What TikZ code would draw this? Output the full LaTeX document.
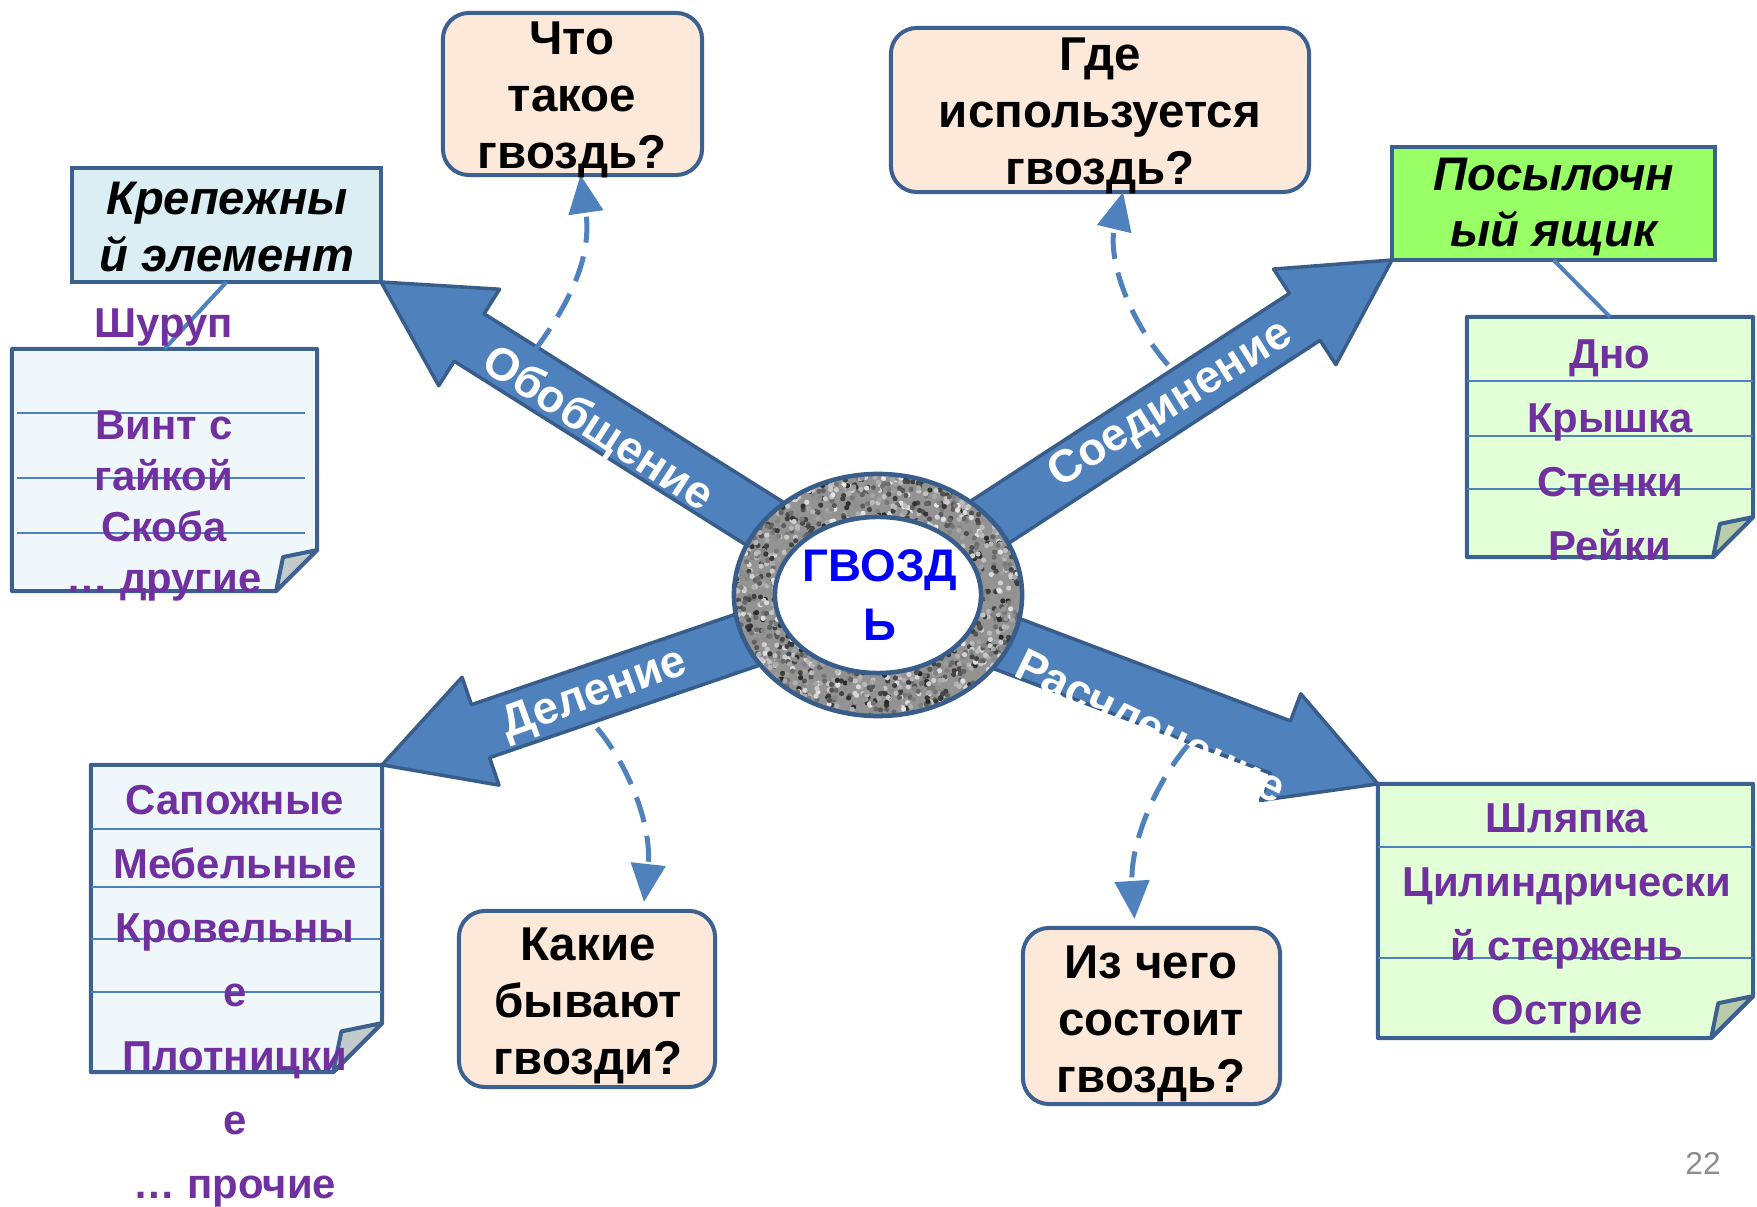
\documentclass[tikz,border=0pt]{standalone}
\usepackage{fontspec}
\setmainfont{Liberation Sans}
\usetikzlibrary{arrows.meta,calc,shapes}

\definecolor{arrowfill}{HTML}{4F81BD}
\definecolor{arrowline}{HTML}{385D8A}
\definecolor{boxline}{HTML}{3C6190}
\definecolor{peach}{HTML}{FDE9D9}
\definecolor{iceblue}{HTML}{DAEEF3}
\definecolor{paleblue}{HTML}{EFF7FA}
\definecolor{lime}{HTML}{99FF66}
\definecolor{palegreen}{HTML}{E3FFD7}
\definecolor{foldgray}{HTML}{C3CACB}
\definecolor{foldgreen}{HTML}{B9CCA9}
\definecolor{listpurple}{HTML}{7030A0}
\definecolor{ringgray}{HTML}{939393}
\definecolor{pagegray}{HTML}{8C8C8C}

% block arrow from #1 (hidden under the ring) to tip #2
\newcommand{\blockarrow}[2]{%
  \coordinate (hb) at ($(#2)!1.04cm!(#1)$);
  \draw[bigarrow] (#2) -- ($(hb)!0.57cm!90:(#1)$) -- ($(hb)!0.28cm!90:(#1)$)
    -- ($(#1)!0.28cm!-90:(hb)$) -- ($(#1)!0.28cm!90:(hb)$)
    -- ($(hb)!0.28cm!-90:(#1)$) -- ($(hb)!0.57cm!-90:(#1)$) -- cycle;
}
% sheet with a turned corner: node, fill, fold colour, fold size
\newcommand{\notesheet}[4]{%
  \draw[boxline, line width=0.04cm, fill=#2, line join=round]
    (#1.north west) -- (#1.north east) -- ($(#1.south east)+(0,-#4)$)
    -- ($(#1.south east)+(-#4,0)$) -- (#1.south west) -- cycle;
  \draw[boxline, line width=0.04cm, fill=#3, line join=round]
    ($(#1.south east)+(0,-#4)$) -- ($(#1.south east)+(-0.83*#4,-0.83*#4)$)
    -- ($(#1.south east)+(-#4,0)$) -- cycle;
}

\begin{document}
\begin{tikzpicture}[x=0.01cm,y=-0.01cm,>={Triangle[length=0.38cm,width=0.34cm]}]
  \tikzstyle{question}=[rectangle,rounded corners=0.26cm,draw=boxline,
  			line width=0.04cm,fill=peach,inner sep=0,outer sep=0]
  \tikzstyle{headbox}=[rectangle,draw=boxline,line width=0.04cm,inner sep=0,outer sep=0]
  \tikzstyle{sheet}=[rectangle,inner sep=0,outer sep=0]
  \tikzstyle{rule}=[draw=arrowfill,line width=0.018cm]
  \tikzstyle{bigarrow}=[draw=arrowline,fill=arrowfill,line width=0.035cm,line join=round]
  \tikzstyle{hint}=[draw=arrowfill,line width=0.05cm,dash pattern=on 0.26cm off 0.14cm,->]
  \tikzstyle{asks}=[font=\bfseries\fontsize{13.5}{16.3}\selectfont,align=center,inner sep=0]
  \tikzstyle{heads}=[font=\bfseries\itshape\fontsize{13.4}{16}\selectfont,align=center,inner sep=0]
  \tikzstyle{items}=[font=\bfseries\fontsize{11.9}{18.2}\selectfont,text=listpurple,
  			align=center,inner sep=0]
  \tikzstyle{arrowlabel}=[font=\bfseries\fontsize{13}{15}\selectfont,text=white,inner sep=0]

  \fill[white] (0,0) rectangle (1757,1207);
  \useasboundingbox (0,0) rectangle (1757,1207);

  % boxes
  \node [question,minimum width=2.59cm,minimum height=1.62cm] (q1) at (572.5,94) {};
  \node [question,minimum width=4.18cm,minimum height=1.64cm] (q2) at (1100,110) {};
  \node [question,minimum width=2.56cm,minimum height=1.76cm] (q3) at (587,999) {};
  \node [question,minimum width=2.57cm,minimum height=1.76cm] (q4) at (1151.5,1016) {};
  \node [headbox,fill=iceblue,minimum width=3.09cm,minimum height=1.14cm] (kr) at (226.5,225) {};
  \node [headbox,fill=lime,minimum width=3.23cm,minimum height=1.13cm] (gr) at (1553.5,203.5) {};

  \node [sheet,minimum width=3.05cm,minimum height=2.42cm] (lst1) at (164.5,470) {};
  \node [sheet,minimum width=2.86cm,minimum height=2.40cm] (lst2) at (1610,437) {};
  \node [sheet,minimum width=2.91cm,minimum height=3.07cm] (lst3) at (236.5,918.5) {};
  \node [sheet,minimum width=3.75cm,minimum height=2.54cm] (lst4) at (1565.5,911) {};
  \notesheet{lst1}{paleblue}{foldgray}{41}
  \notesheet{lst2}{palegreen}{foldgreen}{40}
  \notesheet{lst3}{paleblue}{foldgray}{49}
  \notesheet{lst4}{palegreen}{foldgreen}{42}
  \foreach \yy in {413,478,533}
    \draw[rule] ([xshift=0.05cm]lst1.west |- 0,\yy) -- ([xshift=-0.12cm]lst1.east |- 0,\yy);
  \foreach \yy in {381,436,489}
    \draw[rule] (lst2.west |- 0,\yy) -- (lst2.east |- 0,\yy);
  \foreach \yy in {829,887,939,992}
    \draw[rule] (lst3.west |- 0,\yy) -- (lst3.east |- 0,\yy);
  \foreach \yy in {847,958}
    \draw[rule] (lst4.west |- 0,\yy) -- (lst4.east |- 0,\yy);

  \draw[draw=arrowfill,line width=0.04cm] (kr.south) -- (lst1.north);
  \draw[draw=arrowfill,line width=0.04cm] (gr.south) -- (lst2.north);

  % big arrows out of the centre
  \coordinate (c) at (878,595);
  \blockarrow{c}{kr.south east}
  \blockarrow{c}{gr.south west}
  \blockarrow{c}{lst3.north east}
  \blockarrow{c}{lst4.north west}

  % the ring
  \begin{scope}
    \clip (c) ellipse [x radius=1.44cm,y radius=1.21cm];
    \fill[ringgray] (c) ellipse [x radius=1.44cm,y radius=1.21cm];
    \pgfmathsetseed{21}
    \foreach \k in {1,...,2600}{
      \pgfmathsetmacro{\dx}{145*rand}
      \pgfmathsetmacro{\dy}{122*rand}
      \pgfmathsetmacro{\tone}{int(10+75*rnd)}
      \fill[black!\tone] (878+\dx,595+\dy) circle (0.026cm);
    }
  \end{scope}
  \draw[arrowline,line width=0.045cm] (c) ellipse [x radius=1.44cm,y radius=1.21cm];
  \draw[arrowline,line width=0.045cm,fill=white] (c) ellipse [x radius=1.03cm,y radius=0.78cm];

  \node [arrowlabel,rotate=-33] (l1) at (597,430) {Обобщение};
  \node [arrowlabel,rotate=32] (l2) at (1171,405) {Соединение};
  \node [arrowlabel,rotate=20] (l3) at (595,695) {Деление};
  \node [arrowlabel,rotate=-26] (l4) at (1151,726) {Расчленение};

  % dashed hints to the questions
  \coordinate (d1) at (535,350);
  \coordinate (d2) at (1168,365);
  \coordinate (d3) at (597,728);
  \coordinate (d4) at (1188,745);
  \draw[hint] (d1) .. controls (572,300) and (592,255) .. ([xshift=0.08cm]q1.south);
  \draw[hint] (d2) .. controls (1125,315) and (1108,255) .. ([xshift=0.23cm]q2.south);
  \draw[hint] (d3) .. controls (632,770) and (652,830) .. ([xshift=0.57cm,yshift=0.09cm]q3.north);
  \draw[hint] (d4) .. controls (1150,790) and (1130,850) .. ([xshift=-0.17cm,yshift=0.09cm]q4.north);

  % texts
  \node [asks] (t1) at (572,100) {Что\\такое\\гвоздь?};
  \node [asks] (t2) at (1100,116) {Где\\используется\\гвоздь?};
  \node [asks] (t3) at (588,1006) {Какие\\бывают\\гвозди?};
  \node [asks] (t4) at (1151,1024) {Из чего\\состоит\\гвоздь?};
  \node [heads] (t5) at (227,227) {Крепежны\\й элемент};
  \node [heads] (t6) at (1554,207) {Посылочн\\ый ящик};
  \node [items,font=\bfseries\fontsize{11.9}{14.5}\selectfont] (i1) at (164,455)
    {Шуруп\\[14.5pt]Винт с\\гайкой\\Скоба\\… другие};
  \node [items] (i2) at (1610,450) {Дно\\Крышка\\Стенки\\Рейки};
  \node [items] (i3) at (235,996) {Сапожные\\Мебельные\\Кровельны\\е\\Плотницки\\е\\… прочие};
  \node [items] (i4) at (1567,918) {Шляпка\\Цилиндрически\\й стержень\\Острие};
  \node [font=\bfseries\fontsize{13}{17}\selectfont,text=blue,align=center,inner sep=0]
    (nail) at (880,595) {ГВОЗД\\Ь};
  \node [font=\fontsize{9}{11}\selectfont,text=pagegray,inner sep=0] (pg) at (1703,1163) {22};
\end{tikzpicture}
\end{document}
